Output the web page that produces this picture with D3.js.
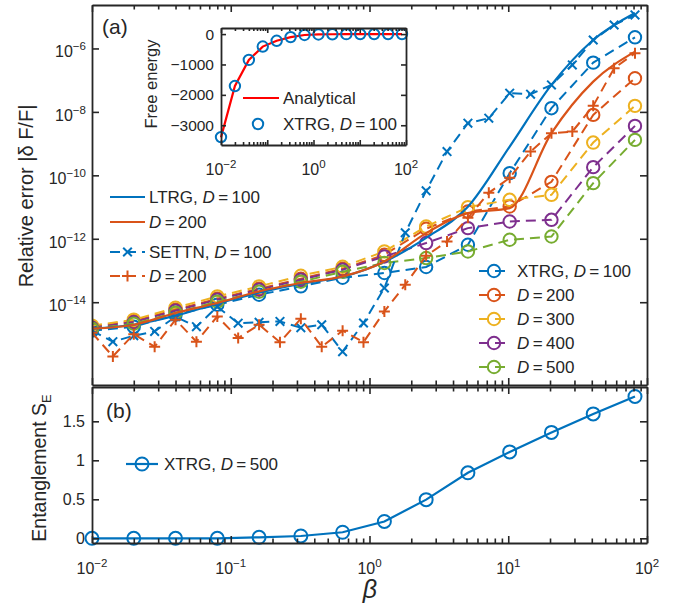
<!DOCTYPE html>
<html>
<head>
<meta charset="utf-8">
<script src="https://cdn.jsdelivr.net/npm/d3@7"></script>
<style>
body{margin:0;background:#fff}
svg{display:block}
text{font-family:"Liberation Sans",Arial,Helvetica,sans-serif;fill:#262626}
</style>
</head>
<body>
<svg id="chart" width="686" height="607"></svg>
<script>
// beta grids
var beta = [0.01, 0.02, 0.04, 0.08, 0.16, 0.32, 0.64, 1.28, 2.56, 5.12, 10.24, 20.48, 40.96, 81.92];
var betaHalf = [0.01, 0.01414, 0.02, 0.02828, 0.04, 0.05657, 0.08, 0.1131, 0.16, 0.2263, 0.32, 0.4525, 0.64, 0.9051,
  1.28, 1.810, 2.56, 3.620, 5.12, 7.241, 10.24, 14.48, 20.48, 28.96, 40.96, 57.93, 81.92];

// (a) relative error
var ltrg100 = [1.46e-15, 1.95e-15, 3.76e-15, 8.97e-15, 1.99e-14, 3.83e-14, 6.35e-14, 1.89e-13, 1.07e-12, 1.02e-11, 8.07e-10, 7.08e-8, 1.85e-6, 1.31e-5];
var ltrg200 = [1.46e-15, 1.95e-15, 4.57e-15, 9.44e-15, 2.19e-14, 4.03e-14, 6.50e-14, 1.93e-13, 1.51e-12, 6.44e-12, 9.27e-12, 2.13e-9, 9.0e-8, 7.93e-7];
var settn100 = [1.27e-15, 5.70e-16, 8.81e-16, 1.20e-15, 3.49e-15, 1.69e-15, 7.21e-15, 2.18e-15, 2.34e-15, 2.48e-15, 1.57e-15, 1.95e-15, 2.76e-16, 2.21e-15,
  2.80e-14, 1.55e-12, 3.25e-11, 5.62e-10, 4.40e-9, 6.34e-9, 3.88e-8, 3.61e-8, 7.08e-8, 3.02e-7, 1.85e-6, 5.50e-6, 1.14e-5];
var settn200 = [1.09e-15, 1.96e-16, 9.82e-16, 3.96e-16, 2.81e-15, 5.70e-16, 3.57e-15, 7.45e-16, 1.95e-15, 5.50e-16, 3.02e-15, 3.96e-16, 1.27e-15, 5.50e-16,
  5.13e-15, 3.56e-14, 2.92e-13, 8.22e-13, 4.58e-12, 2.81e-11, 8.34e-11, 5.62e-10, 2.13e-9, 2.40e-9, 1.55e-8, 2.38e-7, 7.06e-7];
var xtrg100 = [1.27e-15, 1.69e-15, 4.04e-15, 8.34e-15, 1.72e-14, 3.15e-14, 5.92e-14, 8.32e-14, 1.29e-13, 6.47e-13, 1.17e-10, 1.31e-8, 3.57e-7, 2.25e-6];
var xtrg200 = [1.69e-15, 2.52e-15, 5.81e-15, 1.29e-14, 2.66e-14, 5.50e-14, 1.13e-13, 3.13e-13, 2.07e-12, 7.24e-12, 1.04e-11, 6.24e-11, 8.05e-9, 1.15e-7];
var xtrg300 = [1.82e-15, 2.81e-15, 6.71e-15, 1.52e-14, 3.15e-14, 6.84e-14, 1.31e-13, 3.98e-13, 2.44e-12, 9.95e-12, 1.69e-11, 2.43e-11, 1.08e-9, 1.55e-8];
var xtrg400 = [1.57e-15, 2.34e-15, 5.40e-15, 1.20e-14, 2.48e-14, 5.12e-14, 1.06e-13, 2.77e-13, 7.33e-13, 2.17e-12, 3.51e-12, 3.96e-12, 1.81e-10, 3.62e-9];
var xtrg500 = [1.46e-15, 2.10e-15, 4.67e-15, 1.04e-14, 2.14e-14, 4.43e-14, 9.14e-14, 1.72e-13, 2.47e-13, 3.98e-13, 9.31e-13, 1.18e-12, 5.68e-11, 1.31e-9];

// inset free energy
var freeXtrg = [-3390, -1710, -850, -410, -222, -100, -30, -12, -6, -3, -1.5, -0.8, -0.4, -0.2];
var freeExact = [-3400, -1705, -852, -412, -220, -101, -31, -12, -6, -3, -1.5, -0.8, -0.4, -0.2];

// (b) entanglement
var entropy = [0.0, 0.0, 0.0, 0.0, 0.013, 0.03, 0.078, 0.216, 0.496, 0.84, 1.108, 1.358, 1.595, 1.819];

var errTicks = [1e-14, 1e-12, 1e-10, 1e-8, 1e-6];
var entTicks = [0, 0.5, 1, 1.5];
var freeTicks = [0, -1000, -2000, -3000];
var decades = [1e-2, 1e-1, 1, 10, 100];
var minors = [];
[1e-2, 1e-1, 1, 10].forEach(function(d){
  for (var m = 2; m <= 9; m++) minors.push(d * m);
});

var blue = '#0072BD', orange = '#D95319', yellow = '#EDB120', purple = '#7E2F8E', green = '#77AC30';
var axCol = '#262626';

var svg = d3.select('#chart');
var x = d3.scaleLog().domain([1e-2, 1e2]).range([92, 647]);
var ya = d3.scaleLog().domain([Math.pow(10, -16.61), Math.pow(10, -4.63)]).range([385, 5]);
var yb = d3.scaleLinear().domain([-0.06, 1.94]).range([543, 387]);
var xi = d3.scaleLog().domain([1e-2, 1e2]).range([221, 406]);
var yi = d3.scaleLinear().domain([-3650, 200]).range([145, 28]);

function styleAxis(g, keepDomain){
  g.selectAll('line').attr('stroke', axCol).attr('stroke-width', 1.6);
  g.select('.domain').attr('stroke', axCol).attr('stroke-width', 1.8);
  if (!keepDomain) g.select('.domain').remove();
  g.selectAll('text').remove();
}

function box(xs, ys, yvals, left, right, top, bottom, major, minor){
  svg.append('g').attr('transform', 'translate(0,' + bottom + ')')
    .call(d3.axisBottom(xs).tickValues(decades).tickSizeInner(-major).tickSizeOuter(0)).call(styleAxis, true);
  svg.append('g').attr('transform', 'translate(0,' + bottom + ')')
    .call(d3.axisBottom(xs).tickValues(minors).tickSizeInner(-minor).tickSizeOuter(0)).call(styleAxis, false);
  svg.append('g').attr('transform', 'translate(0,' + top + ')')
    .call(d3.axisTop(xs).tickValues(decades).tickSizeInner(-major).tickSizeOuter(0)).call(styleAxis, true);
  svg.append('g').attr('transform', 'translate(0,' + top + ')')
    .call(d3.axisTop(xs).tickValues(minors).tickSizeInner(-minor).tickSizeOuter(0)).call(styleAxis, false);
  svg.append('g').attr('transform', 'translate(' + left + ',0)')
    .call(d3.axisLeft(ys).tickValues(yvals).tickSizeInner(-major).tickSizeOuter(0)).call(styleAxis, true);
  svg.append('g').attr('transform', 'translate(' + right + ',0)')
    .call(d3.axisRight(ys).tickValues(yvals).tickSizeInner(-major).tickSizeOuter(0)).call(styleAxis, true);
}

function powText(sel, v, size){
  var e = Math.round(Math.log10(v));
  sel.append('tspan').text('10');
  sel.append('tspan').attr('dy', -7).attr('font-size', size * 0.72).text(e < 0 ? '\u2212' + (-e) : '' + e);
}

function dLabel(t, prefix, num){
  if (prefix) t.append('tspan').text(prefix);
  t.append('tspan').attr('font-style', 'italic').text('D');
  t.append('tspan').text('\u2009=\u2009' + num);
}

var xPath = 'M-4.3,-4.3L4.3,4.3M-4.3,4.3L4.3,-4.3';
var plusPath = 'M-5.5,0H5.5M0,-5.5V5.5';

// ---------- panel (a) ----------
svg.append('clipPath').attr('id', 'clipA').append('rect')
  .attr('x', 92).attr('y', 5).attr('width', 555).attr('height', 380);
var pa = svg.append('g').attr('clip-path', 'url(#clipA)');

var lineA = d3.line().x(function(d){ return x(d[0]); }).y(function(d){ return ya(d[1]); });
var smoothA = d3.line().curve(d3.curveMonotoneX).x(function(d){ return x(d[0]); }).y(function(d){ return ya(d[1]); });

var xtrgSeries = [
  {vals: xtrg100, col: blue}, {vals: xtrg200, col: orange}, {vals: xtrg300, col: yellow},
  {vals: xtrg400, col: purple}, {vals: xtrg500, col: green}
];
xtrgSeries.forEach(function(s){
  var pts = beta.map(function(b, i){ return [b, s.vals[i]]; });
  pa.append('path').attr('d', lineA(pts)).attr('fill', 'none').attr('stroke', s.col)
    .attr('stroke-width', 2).attr('stroke-dasharray', '10,6');
  pa.selectAll(null).data(pts).enter().append('circle')
    .attr('cx', function(d){ return x(d[0]); }).attr('cy', function(d){ return ya(d[1]); })
    .attr('r', 6.2).attr('fill', 'none').attr('stroke', s.col).attr('stroke-width', 2);
});

[{vals: settn100, col: blue, m: xPath}, {vals: settn200, col: orange, m: plusPath}].forEach(function(s){
  var pts = betaHalf.map(function(b, i){ return [b, s.vals[i]]; });
  pa.append('path').attr('d', lineA(pts)).attr('fill', 'none').attr('stroke', s.col)
    .attr('stroke-width', 2).attr('stroke-dasharray', '10,6');
  pa.selectAll(null).data(pts).enter().append('path')
    .attr('transform', function(d){ return 'translate(' + x(d[0]) + ',' + ya(d[1]) + ')'; })
    .attr('d', s.m).attr('fill', 'none').attr('stroke', s.col).attr('stroke-width', 2);
});

[{vals: ltrg100, col: blue}, {vals: ltrg200, col: orange}].forEach(function(s){
  var pts = beta.map(function(b, i){ return [b, s.vals[i]]; });
  pa.append('path').attr('d', smoothA(pts)).attr('fill', 'none').attr('stroke', s.col).attr('stroke-width', 2.2);
});

box(x, ya, errTicks, 92, 647, 5, 385, 7, 4.5);

svg.selectAll(null).data(errTicks).enter().append('text')
  .attr('x', 86).attr('y', function(d){ return ya(d) + 9; })
  .attr('text-anchor', 'end').attr('font-size', 16)
  .each(function(d){ powText(d3.select(this), d, 16); });

svg.append('text').attr('x', 102).attr('y', 34).attr('font-size', 21).text('(a)');

svg.append('text').attr('transform', 'translate(33,196) rotate(-90)')
  .attr('text-anchor', 'middle').attr('font-size', 20).text('Relative error |\u03b4 F/F|');

// legend LTRG / SETTN
var leg1 = [
  {y: 197, col: blue, dash: null, m: null, pre: 'LTRG, ', num: '100'},
  {y: 222, col: orange, dash: null, m: null, pre: '', num: '200'},
  {y: 252, col: blue, dash: '10,6', m: xPath, pre: 'SETTN, ', num: '100'},
  {y: 276, col: orange, dash: '10,6', m: plusPath, pre: '', num: '200'}
];
leg1.forEach(function(r){
  svg.append('line').attr('x1', 110).attr('x2', 145).attr('y1', r.y).attr('y2', r.y)
    .attr('stroke', r.col).attr('stroke-width', 2.2).attr('stroke-dasharray', r.dash);
  if (r.m) svg.append('path').attr('transform', 'translate(127.5,' + r.y + ')').attr('d', r.m)
    .attr('fill', 'none').attr('stroke', r.col).attr('stroke-width', 2);
  svg.append('text').attr('x', 149).attr('y', r.y + 6).attr('font-size', 17)
    .call(dLabel, r.pre, r.num);
});

// legend XTRG
var leg2 = [
  {col: blue, pre: 'XTRG, ', num: '100'}, {col: orange, pre: '', num: '200'},
  {col: yellow, pre: '', num: '300'}, {col: purple, pre: '', num: '400'}, {col: green, pre: '', num: '500'}
];
var leg2y = [271, 295, 319, 343, 367];
leg2.forEach(function(r, i){
  var yy = leg2y[i];
  svg.append('line').attr('x1', 479).attr('x2', 508).attr('y1', yy).attr('y2', yy)
    .attr('stroke', r.col).attr('stroke-width', 2.2).attr('stroke-dasharray', '10,6');
  svg.append('circle').attr('cx', 494).attr('cy', yy).attr('r', 6.2)
    .attr('fill', 'none').attr('stroke', r.col).attr('stroke-width', 2);
  svg.append('text').attr('x', 517).attr('y', yy + 6).attr('font-size', 17).call(dLabel, r.pre, r.num);
});

// ---------- inset ----------
svg.append('rect').attr('x', 221).attr('y', 28).attr('width', 185).attr('height', 117).attr('fill', '#fff');
var ptsExact = beta.map(function(b, i){ return [b, freeExact[i]]; });
var ptsFree = beta.map(function(b, i){ return [b, freeXtrg[i]]; });
var lineI = d3.line().x(function(d){ return xi(d[0]); }).y(function(d){ return yi(d[1]); });
svg.append('path').attr('d', lineI(ptsExact)).attr('fill', 'none').attr('stroke', '#FF0000').attr('stroke-width', 2.2);
svg.selectAll(null).data(ptsFree).enter().append('circle')
  .attr('cx', function(d){ return xi(d[0]); }).attr('cy', function(d){ return yi(d[1]); })
  .attr('r', 5.2).attr('fill', 'none').attr('stroke', blue).attr('stroke-width', 2);

box(xi, yi, freeTicks, 221, 406, 28, 145, 5, 3);

svg.selectAll(null).data(freeTicks).enter().append('text')
  .attr('x', 214).attr('y', function(d){ return yi(d) + 5.5; })
  .attr('text-anchor', 'end').attr('font-size', 15.5)
  .text(function(d){ return d < 0 ? '\u2212' + (-d) : '' + d; });
svg.selectAll(null).data([1e-2, 1, 100]).enter().append('text')
  .attr('x', function(d){ return xi(d); }).attr('y', 175)
  .attr('text-anchor', 'middle').attr('font-size', 16)
  .each(function(d){ powText(d3.select(this), d, 16); });
svg.append('text').attr('transform', 'translate(157,84) rotate(-90)')
  .attr('text-anchor', 'middle').attr('font-size', 16.5).text('Free energy');

svg.append('line').attr('x1', 243).attr('x2', 279).attr('y1', 98).attr('y2', 98)
  .attr('stroke', '#FF0000').attr('stroke-width', 2.2);
svg.append('text').attr('x', 283).attr('y', 104).attr('font-size', 17).text('Analytical');
svg.append('circle').attr('cx', 258).attr('cy', 124).attr('r', 5.2)
  .attr('fill', 'none').attr('stroke', blue).attr('stroke-width', 2);
svg.append('text').attr('x', 283).attr('y', 130).attr('font-size', 17).call(dLabel, 'XTRG, ', '100');

// ---------- panel (b) ----------
var ptsEnt = beta.map(function(b, i){ return [b, entropy[i]]; });
var lineB = d3.line().x(function(d){ return x(d[0]); }).y(function(d){ return yb(d[1]); });
svg.append('path').attr('d', lineB(ptsEnt)).attr('fill', 'none').attr('stroke', blue).attr('stroke-width', 2.2);
svg.selectAll(null).data(ptsEnt).enter().append('circle')
  .attr('cx', function(d){ return x(d[0]); }).attr('cy', function(d){ return yb(d[1]); })
  .attr('r', 6.5).attr('fill', 'none').attr('stroke', blue).attr('stroke-width', 2);

box(x, yb, entTicks, 92, 647, 387, 543, 7, 4.5);

svg.selectAll(null).data(entTicks).enter().append('text')
  .attr('x', 85).attr('y', function(d){ return yb(d) + 6; })
  .attr('text-anchor', 'end').attr('font-size', 16)
  .text(function(d){ return '' + d; });
svg.selectAll(null).data(decades).enter().append('text')
  .attr('x', function(d){ return x(d); }).attr('y', 574)
  .attr('text-anchor', 'middle').attr('font-size', 16)
  .each(function(d){ powText(d3.select(this), d, 16); });

svg.append('text').attr('x', 106).attr('y', 418).attr('font-size', 21).text('(b)');

var ylb = svg.append('text').attr('transform', 'translate(46,468) rotate(-90)')
  .attr('text-anchor', 'middle').attr('font-size', 19.5);
ylb.append('tspan').text('Entanglement S');
ylb.append('tspan').attr('dy', 5).attr('font-size', 13).text('E');

svg.append('line').attr('x1', 126).attr('x2', 158).attr('y1', 464).attr('y2', 464)
  .attr('stroke', blue).attr('stroke-width', 2.2);
svg.append('circle').attr('cx', 142).attr('cy', 464).attr('r', 6.5)
  .attr('fill', 'none').attr('stroke', blue).attr('stroke-width', 2);
svg.append('text').attr('x', 164).attr('y', 470).attr('font-size', 17).call(dLabel, 'XTRG, ', '500');

svg.append('text').attr('x', 370).attr('y', 598).attr('text-anchor', 'middle')
  .attr('font-family', '"Liberation Serif","Times New Roman",serif').attr('font-style', 'italic')
  .attr('font-size', 25).text('\u03b2');
</script>
</body>
</html>
